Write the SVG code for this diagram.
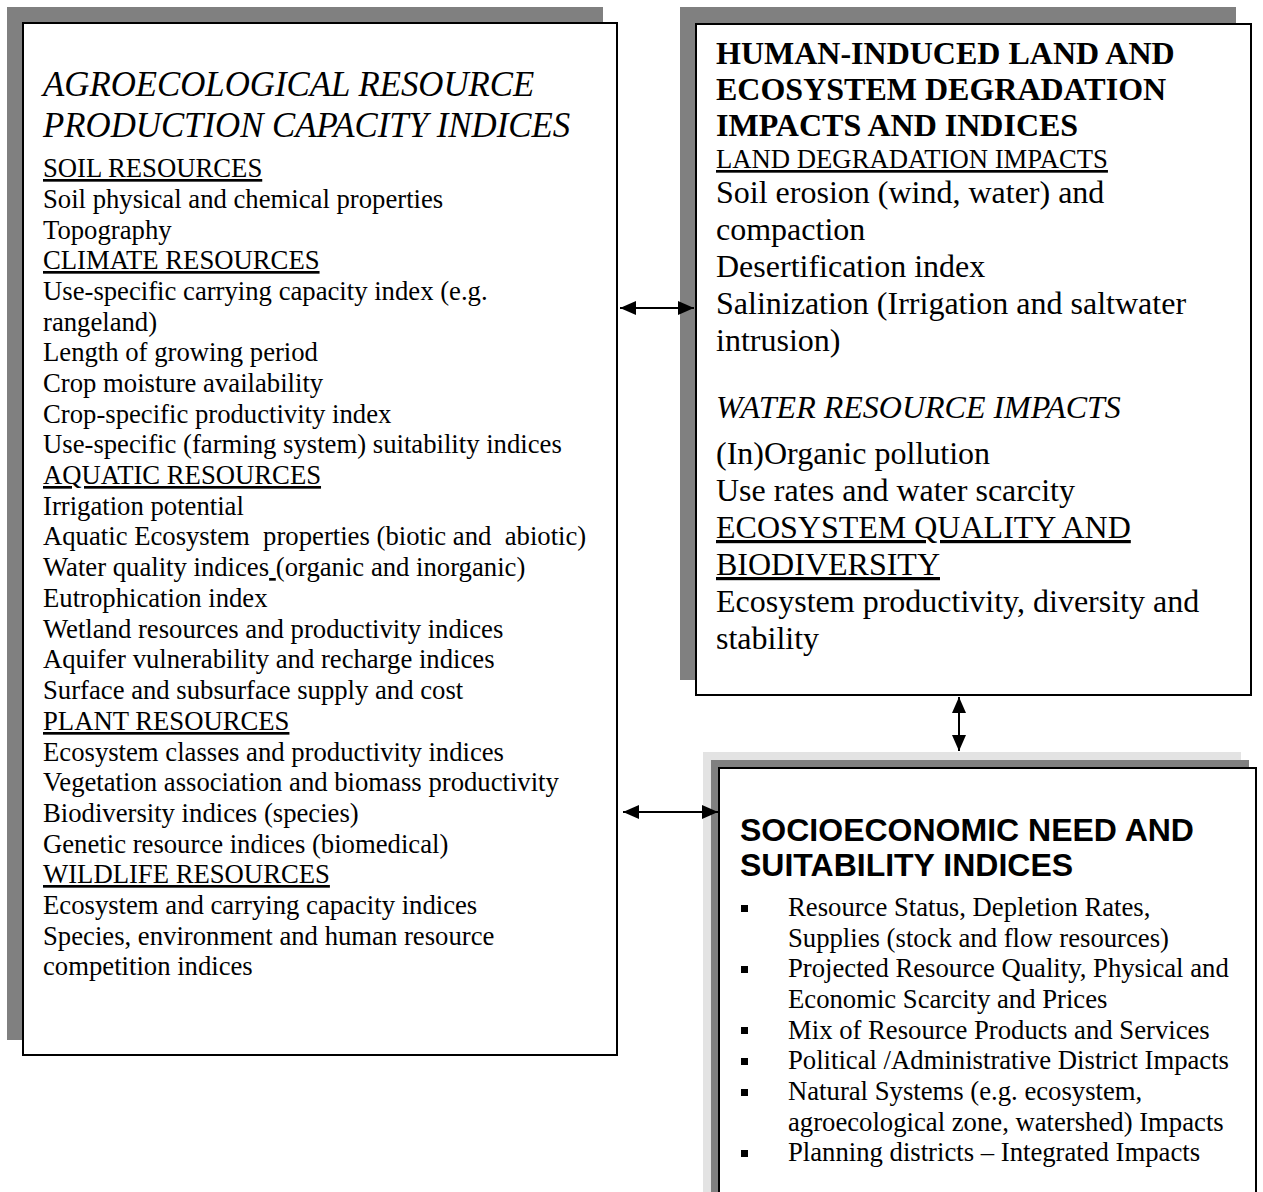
<svg xmlns="http://www.w3.org/2000/svg" width="1263" height="1192" viewBox="0 0 1263 1192">
  <style>
    .shadow { fill: #808080; }
    .halo { fill: #e3e3e3; }
    .box { fill: #ffffff; stroke: #000000; stroke-width: 2; }
    text { font-family: "Liberation Serif", "Times New Roman", serif; fill: #000000; white-space: pre; }
    .t-left { font-size: 26.7px; }
    .t-right { font-size: 32px; }
    .t-bul { font-size: 26.7px; }
    .ital-title { font-size: 34.8px; font-style: italic; }
    .bold-title { font-size: 32px; font-weight: bold; }
    .sans-title { font-family: "Liberation Sans", Arial, sans-serif; font-size: 32px; font-weight: bold; }
    .u { text-decoration: underline; }
    .i { font-style: italic; }
    .conn { stroke: #000000; stroke-width: 2; fill: none; }
    .bullet { fill: #000000; }
  </style>
  <defs>
    <marker id="head" viewBox="0 0 16 14" refX="16" refY="7" markerWidth="16" markerHeight="14" markerUnits="userSpaceOnUse" orient="auto-start-reverse">
      <path d="M0,0 L16,7 L0,14 Z" fill="#000000"/>
    </marker>
  </defs>

  <rect width="1263" height="1192" fill="#ffffff"/>

  <!-- Agroecological resource box -->
  <g id="node-agroecological">
    <rect class="shadow" x="7" y="7" width="596" height="1033"/>
    <rect class="box" x="23" y="23" width="594" height="1032"/>
    <text class="ital-title" x="43" y="96">AGROECOLOGICAL RESOURCE</text>
    <text class="ital-title" x="43" y="137">PRODUCTION CAPACITY INDICES</text>
    <text x="43" y="177" class="t-left u">SOIL RESOURCES</text>
    <text x="43" y="208" class="t-left">Soil physical and chemical properties</text>
    <text x="43" y="239" class="t-left">Topography</text>
    <text x="43" y="269" class="t-left u">CLIMATE RESOURCES</text>
    <text x="43" y="300" class="t-left">Use-specific carrying capacity index (e.g.</text>
    <text x="43" y="331" class="t-left">rangeland)</text>
    <text x="43" y="361" class="t-left">Length of growing period</text>
    <text x="43" y="392" class="t-left">Crop moisture availability</text>
    <text x="43" y="423" class="t-left">Crop-specific productivity index</text>
    <text x="43" y="453" class="t-left">Use-specific (farming system) suitability indices</text>
    <text x="43" y="484" class="t-left u">AQUATIC RESOURCES</text>
    <text x="43" y="515" class="t-left">Irrigation potential</text>
    <text x="43" y="545" class="t-left">Aquatic Ecosystem  properties (biotic and  abiotic)</text>
    <text x="43" y="576" class="t-left">Water quality indices<tspan class="u"> </tspan>(organic and inorganic)</text>
    <text x="43" y="607" class="t-left">Eutrophication index</text>
    <text x="43" y="638" class="t-left">Wetland resources and productivity indices</text>
    <text x="43" y="668" class="t-left">Aquifer vulnerability and recharge indices</text>
    <text x="43" y="699" class="t-left">Surface and subsurface supply and cost</text>
    <text x="43" y="730" class="t-left u">PLANT RESOURCES</text>
    <text x="43" y="761" class="t-left">Ecosystem classes and productivity indices</text>
    <text x="43" y="791" class="t-left">Vegetation association and biomass productivity</text>
    <text x="43" y="822" class="t-left">Biodiversity indices (species)</text>
    <text x="43" y="853" class="t-left">Genetic resource indices (biomedical)</text>
    <text x="43" y="883" class="t-left u">WILDLIFE RESOURCES</text>
    <text x="43" y="914" class="t-left">Ecosystem and carrying capacity indices</text>
    <text x="43" y="945" class="t-left">Species, environment and human resource</text>
    <text x="43" y="975" class="t-left">competition indices</text>
  </g>

  <!-- Human-induced degradation box -->
  <g id="node-degradation">
    <rect class="shadow" x="680" y="7" width="556" height="673"/>
    <rect class="box" x="696" y="24" width="555" height="671"/>
    <text class="bold-title" x="716" y="64">HUMAN-INDUCED LAND AND</text>
    <text class="bold-title" x="716" y="100">ECOSYSTEM DEGRADATION</text>
    <text class="bold-title" x="716" y="136">IMPACTS AND INDICES</text>
    <text class="t-left u" x="716" y="168">LAND DEGRADATION IMPACTS</text>
    <text class="t-right" x="716" y="203">Soil erosion (wind, water) and</text>
    <text class="t-right" x="716" y="240">compaction</text>
    <text class="t-right" x="716" y="277">Desertification index</text>
    <text class="t-right" x="716" y="314">Salinization (Irrigation and saltwater</text>
    <text class="t-right" x="716" y="351">intrusion)</text>
    <text class="t-right i" x="716" y="418">WATER RESOURCE IMPACTS</text>
    <text class="t-right" x="716" y="464">(In)Organic pollution</text>
    <text class="t-right" x="716" y="501">Use rates and water scarcity</text>
    <text class="t-right u" x="716" y="538">ECOSYSTEM QUALITY AND</text>
    <text class="t-right u" x="716" y="575">BIODIVERSITY</text>
    <text class="t-right" x="716" y="612">Ecosystem productivity, diversity and</text>
    <text class="t-right" x="716" y="649">stability</text>
  </g>

  <!-- Socioeconomic indices box -->
  <g id="node-socioeconomic">
    <rect class="halo" x="703" y="752" width="538" height="460"/>
    <rect class="shadow" x="711" y="760" width="538" height="452"/>
    <rect class="box" x="719" y="768" width="537" height="444"/>
    <text class="sans-title" x="740" y="841">SOCIOECONOMIC NEED AND</text>
    <text class="sans-title" x="740" y="876">SUITABILITY INDICES</text>
    <g class="bullet">
      <rect x="741" y="905" width="7" height="7"/>
      <rect x="741" y="966" width="7" height="7"/>
      <rect x="741" y="1027" width="7" height="7"/>
      <rect x="741" y="1058" width="7" height="7"/>
      <rect x="741" y="1089" width="7" height="7"/>
      <rect x="741" y="1150" width="7" height="7"/>
    </g>
    <text class="t-bul" x="788" y="916">Resource Status, Depletion Rates,</text>
    <text class="t-bul" x="788" y="947">Supplies (stock and flow resources)</text>
    <text class="t-bul" x="788" y="977">Projected Resource Quality, Physical and</text>
    <text class="t-bul" x="788" y="1008">Economic Scarcity and Prices</text>
    <text class="t-bul" x="788" y="1039">Mix of Resource Products and Services</text>
    <text class="t-bul" x="788" y="1069">Political /Administrative District Impacts</text>
    <text class="t-bul" x="788" y="1100">Natural Systems (e.g. ecosystem,</text>
    <text class="t-bul" x="788" y="1131">agroecological zone, watershed) Impacts</text>
    <text class="t-bul" x="788" y="1161">Planning districts – Integrated Impacts</text>
  </g>

  <!-- Two-way links between the boxes -->
  <g id="connectors">
    <line class="conn" x1="620" y1="308" x2="694" y2="308" marker-start="url(#head)" marker-end="url(#head)"/>
    <line class="conn" x1="623" y1="812" x2="718" y2="812" marker-start="url(#head)" marker-end="url(#head)"/>
    <line class="conn" x1="959" y1="697" x2="959" y2="751" marker-start="url(#head)" marker-end="url(#head)"/>
  </g>
</svg>
